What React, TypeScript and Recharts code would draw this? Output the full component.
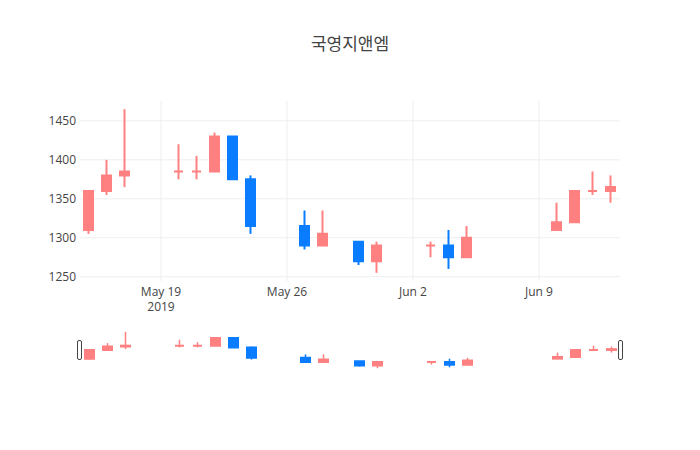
import React from 'react';
import { ComposedChart, Bar, XAxis, YAxis, CartesianGrid } from 'recharts';

const dates = [
  '2019-05-15', '2019-05-16', '2019-05-17', '2019-05-20', '2019-05-21',
  '2019-05-22', '2019-05-23', '2019-05-24', '2019-05-27', '2019-05-28',
  '2019-05-30', '2019-05-31', '2019-06-03', '2019-06-04', '2019-06-05',
  '2019-06-10', '2019-06-11', '2019-06-12', '2019-06-13',
];
const opens = [1310, 1360, 1380, 1385, 1385, 1385, 1430, 1375, 1315, 1290, 1295, 1270, 1290, 1290, 1275, 1310, 1320, 1360, 1360];
const highs = [1360, 1400, 1465, 1420, 1405, 1435, 1430, 1380, 1335, 1335, 1295, 1295, 1295, 1310, 1315, 1345, 1360, 1385, 1380];
const lows = [1305, 1355, 1365, 1375, 1375, 1385, 1375, 1305, 1285, 1290, 1265, 1255, 1275, 1260, 1275, 1310, 1320, 1355, 1345];
const closes = [1360, 1380, 1385, 1385, 1385, 1430, 1375, 1315, 1290, 1305, 1270, 1290, 1290, 1275, 1300, 1320, 1360, 1360, 1365];

const yTicks = [1250, 1300, 1350, 1400, 1450];
const xTickDates = ['2019-05-19', '2019-05-26', '2019-06-02', '2019-06-09'];
const monthNames = ['Jan', 'Feb', 'Mar', 'Apr', 'May', 'Jun', 'Jul', 'Aug', 'Sep', 'Oct', 'Nov', 'Dec'];

const UP = '#FF8080';
const DOWN = '#0A7CFF';
const FONT = '"Open Sans", verdana, arial, "Noto Sans CJK KR", sans-serif';

const toTs = (s: string) => {
  const [y, m, d] = s.split('-').map(Number);
  return Date.UTC(y, m - 1, d);
};
const DAY = 86400000;

const data = dates.map((d, i) => ({
  t: toTs(d),
  open: opens[i],
  high: highs[i],
  low: lows[i],
  close: closes[i],
}));

const xDomain = [toTs(dates[0]) - DAY / 2, toTs(dates[dates.length - 1]) + DAY / 2];
const yDomain = [1244.5, 1475.5];
const xTicks = xTickDates.map(toTs);

// candle drawn inside the [low, high] bar that recharts lays out
const Candle = (props: any) => {
  const { x, y, width, height, payload, wick = 2 } = props;
  const { open, high, low, close } = payload;
  const color = close >= open ? UP : DOWN;
  const pos = (v: number) => y + ((high - v) / (high - low)) * height;
  const cx = x + width / 2;
  const top = pos(Math.max(open, close));
  const bot = pos(Math.min(open, close));
  const l = x + 1;
  const r = x + width - 1;
  return (
    <g>
      <line x1={cx} x2={cx} y1={y} y2={y + height} stroke={color} strokeWidth={wick} />
      <path
        d={`M${l},${top}H${r}V${bot}H${l}Z`}
        fill={color}
        stroke={color}
        strokeWidth={2}
      />
    </g>
  );
};

const DateTick = (props: any) => {
  const { x, y, payload } = props;
  const d = new Date(payload.value);
  const label = `${monthNames[d.getUTCMonth()]} ${d.getUTCDate()}`;
  const first = payload.value === xTicks[0];
  return (
    <text x={x} y={y} textAnchor="middle" fill="#444" fontSize={12} fontFamily={FONT}>
      <tspan x={x} dy="0.71em">{label}</tspan>
      {first && <tspan x={x} dy="1.3em">2019</tspan>}
    </text>
  );
};

export default function App() {
  return (
    <div style={{ position: 'absolute', left: 0, top: 0, width: 700, height: 450, background: '#fff' }}>
      <div
        style={{
          position: 'absolute', left: 0, top: 30, width: 700, textAlign: 'center',
          fontFamily: FONT, fontSize: 17, color: '#444',
        }}
      >
        국영지앤엠
      </div>
      <ComposedChart
        width={700}
        height={321}
        data={data}
        margin={{ top: 101, right: 80, left: 0, bottom: 0 }}
        style={{ position: 'absolute', left: 0, top: 0 }}
      >
        <CartesianGrid stroke="#eee" strokeWidth={1} syncWithTicks />
        <XAxis
          dataKey="t"
          type="number"
          scale="time"
          domain={xDomain}
          ticks={xTicks}
          tick={<DateTick />}
          axisLine={false}
          tickLine={false}
          tickSize={0}
          tickMargin={6}
          height={40}
          allowDataOverflow
        />
        <YAxis
          type="number"
          domain={yDomain}
          ticks={yTicks}
          axisLine={false}
          tickLine={false}
          tickSize={0}
          tickMargin={4}
          width={80}
          tick={{ fill: '#444', fontSize: 12, fontFamily: FONT }}
          allowDataOverflow
        />
        <Bar
          dataKey={(d: any) => [d.low, d.high]}
          barSize={11}
          shape={<Candle />}
          isAnimationActive={false}
        />
      </ComposedChart>
      <ComposedChart
        width={540}
        height={40}
        data={data}
        margin={{ top: 0, right: 0, left: 0, bottom: 0 }}
        style={{ position: 'absolute', left: 80, top: 330 }}
      >
        <XAxis dataKey="t" type="number" scale="time" domain={xDomain} hide allowDataOverflow />
        <YAxis type="number" domain={yDomain} hide allowDataOverflow />
        <Bar
          dataKey={(d: any) => [d.low, d.high]}
          barSize={11}
          shape={<Candle wick={1.5} />}
          isAnimationActive={false}
        />
      </ComposedChart>
      <svg width={700} height={450} style={{ position: 'absolute', left: 0, top: 0, pointerEvents: 'none' }}>
        <rect x={77.5} y={340.5} width={4} height={19} rx={1.5} fill="#fff" stroke="#444" strokeWidth={1} />
        <rect x={618.5} y={340.5} width={4} height={19} rx={1.5} fill="#fff" stroke="#444" strokeWidth={1} />
      </svg>
    </div>
  );
}
